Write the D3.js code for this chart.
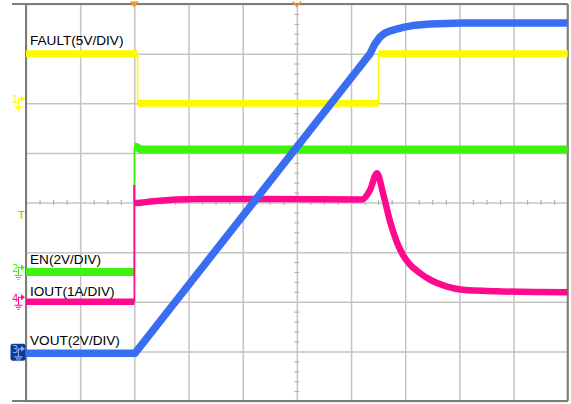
<!DOCTYPE html>
<html>
<head>
<meta charset="utf-8">
<script src="https://cdn.jsdelivr.net/npm/d3@7"></script>
<style>
  html, body { margin: 0; padding: 0; background: #fff; }
  svg { display: block; }
  .lbl { font-family: "Liberation Sans", Arial, sans-serif; font-size: 13.6px; fill: #000; }
</style>
</head>
<body>
<svg id="scope" width="571" height="404"></svg>
<script>
// Channel setup: name, volts (amps) per division, ground position in divisions from screen centre
const channelNames = ["FAULT", "EN", "IOUT", "VOUT"];
const channelLabels = ["FAULT(5V/DIV)", "EN(2V/DIV)", "IOUT(1A/DIV)", "VOUT(2V/DIV)"];
const channelNumbers = ["1", "2", "4", "3"];
const perDiv = [5, 2, 1, 2];
const groundDiv = [2.0, -1.4, -2.0, -3.04];
const colors = ["#fbfb00", "#3df20c", "#ff0a8f", "#3a6ef2"];

// Time axis in divisions (10 horizontal divisions), trigger at 2 div
const timeDivs = d3.range(0, 11);
const voltDivs = d3.range(-4, 5);
const triggerT = 2;
const centreT = 5;

// FAULT (V)
const faultT = [0, 2.06, 2.06, 6.51, 6.51, 10];
const faultV = [5.0, 5.0, 0.0, 0.0, 5.0, 5.0];

// EN (V)
const enT = [0, 2.0, 2.0, 2.03, 2.12, 10];
const enV = [0.0, 0.0, 5.05, 5.05, 4.94, 4.94];

// IOUT (A)
const ioutT = [0, 2.0, 2.0, 2.0, 2.05, 2.3, 3.2, 4.5, 6.2, 6.35, 6.48, 6.59, 6.72, 6.84, 6.95, 7.08, 7.27, 7.45, 7.76, 8.06, 8.68, 10];
const ioutV = [0.0, 0.0, 2.35, 1.99, 1.99, 2.02, 2.07, 2.07, 2.06, 2.25, 2.59, 2.19, 1.62, 1.22, 0.96, 0.76, 0.58, 0.45, 0.31, 0.24, 0.21, 0.19];

// VOUT (V)
const voutT = [0, 2.01, 6.35, 6.44, 6.53, 6.62, 6.73, 6.84, 6.98, 7.14, 7.45, 8.06, 10];
const voutV = [0.0, 0.0, 12.07, 12.47, 12.74, 12.90, 13.0, 13.07, 13.15, 13.21, 13.27, 13.31, 13.31];

const traceT = [faultT, enT, ioutT, voutT];
const traceV = [faultV, enV, ioutV, voutV];
const traceWidth = [7, 8, 6.5, 7.5];
const traceCurve = [d3.curveLinear, d3.curveLinear, d3.curveMonotoneX, d3.curveLinear];

const svg = d3.select("#scope");
const plotLeft = 26, plotRight = 567.7, plotTop = 4, plotBottom = 401;

const x = d3.scaleLinear().domain([0, 10]).range([plotLeft, plotRight]);
const yDiv = d3.scaleLinear().domain([-4, 4]).range([plotBottom, plotTop]);
const yCh = (i, v) => yDiv(groundDiv[i] + v / perDiv[i]);

// Graticule
const grid = svg.append("g");
grid.append("g")
  .attr("transform", `translate(0,${plotBottom})`)
  .call(d3.axisBottom(x).tickValues(timeDivs).tickSize(-(plotBottom - plotTop)).tickFormat(""))
  .call(g => g.select(".domain").remove())
  .call(g => g.selectAll("line").attr("stroke", "#c4c4c4").attr("stroke-width", 1.5));
grid.append("g")
  .attr("transform", `translate(${plotLeft},0)`)
  .call(d3.axisLeft(yDiv).tickValues(voltDivs).tickSize(-(plotRight - plotLeft)).tickFormat(""))
  .call(g => g.select(".domain").remove())
  .call(g => g.selectAll("line").attr("stroke", "#c4c4c4").attr("stroke-width", 1.5));

// Minor ticks along the centre lines
const minorT = d3.range(0, 40).map(k => k * 0.25).filter(v => v % 1 !== 0);
const minorV = d3.range(-20, 20).map(k => k * 0.2).filter(v => Math.abs(v - Math.round(v)) > 1e-6);
grid.append("g")
  .attr("transform", `translate(0,${yDiv(0) - 2.5})`)
  .call(d3.axisBottom(x).tickValues(minorT).tickSize(5).tickFormat(""))
  .call(g => g.select(".domain").remove())
  .call(g => g.selectAll("line").attr("stroke", "#b4b4b4").attr("stroke-width", 1.2));
grid.append("g")
  .attr("transform", `translate(${x(centreT) + 2.5},0)`)
  .call(d3.axisLeft(yDiv).tickValues(minorV).tickSize(5).tickFormat(""))
  .call(g => g.select(".domain").remove())
  .call(g => g.selectAll("line").attr("stroke", "#b4b4b4").attr("stroke-width", 1.2));

// Frame
const frame = svg.append("g").attr("stroke", "#7c7c7c").attr("stroke-width", 2).attr("fill", "none");
frame.append("line").attr("x1", 12).attr("x2", plotRight).attr("y1", plotTop).attr("y2", plotTop);
frame.append("line").attr("x1", 12).attr("x2", plotRight).attr("y1", plotBottom).attr("y2", plotBottom);
frame.append("line").attr("x1", plotLeft).attr("x2", plotLeft).attr("y1", plotTop).attr("y2", plotBottom);
frame.append("line").attr("x1", plotRight).attr("x2", plotRight).attr("y1", plotTop).attr("y2", plotBottom);

// Traces: thick strokes for sampled runs, thin strokes for the instantaneous edges
const traces = svg.append("g");
traceT.forEach((ts, i) => {
  const pts = ts.map((t, j) => [t, traceV[i][j]]);
  const runs = [], edges = [];
  let cur = [pts[0]];
  for (let j = 1; j < pts.length; j++) {
    if (pts[j][0] === pts[j - 1][0]) {
      if (cur.length > 1) runs.push(cur);
      edges.push([pts[j - 1], pts[j]]);
      cur = [pts[j]];
    } else {
      cur.push(pts[j]);
    }
  }
  if (cur.length > 1) runs.push(cur);
  const edgeLine = d3.line().x(d => x(d[0])).y(d => yCh(i, d[1]));
  const runLine = d3.line().x(d => x(d[0])).y(d => yCh(i, d[1])).curve(traceCurve[i]);
  const g = traces.append("g").attr("fill", "none").attr("stroke", colors[i]);
  edges.forEach(e => g.append("path").attr("d", edgeLine(e)).attr("stroke-width", 1.6));
  runs.forEach(r => g.append("path").attr("d", runLine(r))
    .attr("stroke-width", traceWidth[i]).attr("stroke-linejoin", "round").attr("stroke-linecap", "butt"));
});

// Channel labels
const labelY = [44.5, 263.5, 296, 345];
channelLabels.forEach((s, i) => {
  svg.append("text").attr("class", "lbl").attr("x", 30).attr("y", labelY[i]).text(s);
});

// Ground reference markers on the left edge
function groundMarker(i, boxed) {
  const gy = yCh(i, 0) - 2;
  const g = svg.append("g");
  let c = colors[i];
  if (boxed) {
    g.append("rect").attr("x", 10.5).attr("y", gy - 7.5).attr("width", 15).attr("height", 17)
      .attr("rx", 2.5).attr("fill", "#0c3c8e");
    c = "#8cabff";
  }
  g.append("text").attr("x", 12).attr("y", gy + 2)
    .attr("font-family", "DejaVu Sans, sans-serif").attr("font-size", 10)
    .attr("fill", c).text(channelNumbers[i]);
  g.append("path")
    .attr("d", `M18.5,${gy + 5.5} V${gy - 2.5} H21`)
    .attr("stroke", c).attr("stroke-width", 1.1).attr("fill", "none");
  g.append("path")
    .attr("d", `M21,${gy - 5.5} L25,${gy - 2.5} L21,${gy + 0.5} Z`).attr("fill", c);
  g.append("path")
    .attr("d", `M14.5,${gy + 5.5} H22.5 M16,${gy + 7.5} H21 M17.5,${gy + 9.5} H19.5`)
    .attr("stroke", c).attr("stroke-width", 1.1).attr("fill", "none");
}
groundMarker(0, false);
groundMarker(1, false);
groundMarker(2, false);
groundMarker(3, true);

// Trigger level marker
svg.append("text").attr("x", 18).attr("y", 219)
  .attr("font-family", "DejaVu Sans, sans-serif").attr("font-size", 10.5)
  .attr("fill", "#3ce62a").text("T");

// Trigger position and centre markers on the top edge
const tx = x(triggerT), cx = x(centreT);
svg.append("path").attr("d", `M${tx - 4.5},1.5 L${tx + 4.5},1.5 L${tx},7.5 Z`).attr("fill", "#f39a1e");
svg.append("path").attr("d", `M${cx - 4},1.5 L${cx},6.5 L${cx + 4},1.5`)
  .attr("fill", "none").attr("stroke", "#f39a1e").attr("stroke-width", 1.6);
</script>
</body>
</html>
